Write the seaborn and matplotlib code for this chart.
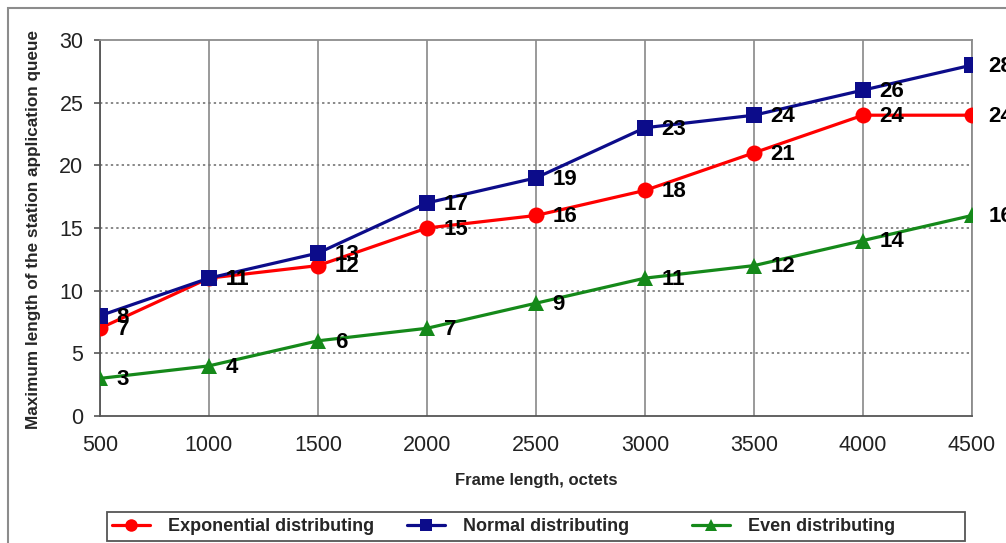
import matplotlib
matplotlib.use("Agg")
import matplotlib.pyplot as plt
import matplotlib.patches as mpatches
import seaborn as sns
import pandas as pd

frame_lengths = [500, 1000, 1500, 2000, 2500, 3000, 3500, 4000, 4500]
exponential = [7, 11, 12, 15, 16, 18, 21, 24, 24]
normal = [8, 11, 13, 17, 19, 23, 24, 26, 28]
even = [3, 4, 6, 7, 9, 11, 12, 14, 16]
series_names = ["Exponential distributing", "Normal distributing", "Even distributing"]
y_ticks = [0, 5, 10, 15, 20, 25, 30]

rows = []
for name, vals in zip(series_names, [exponential, normal, even]):
    for x, y in zip(frame_lengths, vals):
        rows.append({"frame": x, "queue": y, "series": name})
df = pd.DataFrame(rows)

sns.set_theme(style="white")
plt.rcParams["font.family"] = ["Liberation Sans", "DejaVu Sans"]

colors = {"Exponential distributing": "#ff0000",
          "Normal distributing": "#0c0c8a",
          "Even distributing": "#15891a"}
markers = {"Exponential distributing": "o",
           "Normal distributing": "s",
           "Even distributing": "^"}

W, H = 1006, 543
fig = plt.figure(figsize=(W / 100, H / 100), dpi=100)
ax = fig.add_axes([100 / W, 1 - 416 / H, 872 / W, 376 / H])

# outer chart frame
fig.patches.append(mpatches.Rectangle((8 / W, -0.05), 1.1, 1 - 8 / H + 0.05,
                                      transform=fig.transFigure, fill=False,
                                      edgecolor="#8c8c8c", linewidth=1.5, zorder=0))

# grid: solid verticals, dotted horizontals
for x in frame_lengths:
    ax.axvline(x, color="#7f7f7f", linewidth=1.1, zorder=1)
for y in y_ticks[1:-1]:
    ax.axhline(y, color="#7f7f7f", linewidth=1.3, linestyle=(0, (1.3, 1.7)), zorder=1)

sns.lineplot(data=df, x="frame", y="queue", hue="series", style="series",
             palette=colors, markers=markers, dashes=False, linewidth=2.3,
             markersize=11.5, markeredgewidth=0, ax=ax, legend=False,
             hue_order=series_names, style_order=series_names, zorder=3)

for name, vals in zip(series_names, [exponential, normal, even]):
    for x, y in zip(frame_lengths, vals):
        ax.annotate(str(y), (x, y), xytext=(12, -1), textcoords="offset points",
                    ha="left", va="center", fontsize=16, fontweight="bold",
                    color="black", zorder=5, annotation_clip=False)

ax.set_xlim(500, 4500)
ax.set_ylim(0, 30)
ax.set_xticks(frame_lengths)
ax.set_xticks([500, 4500], minor=True)
ax.set_yticks(y_ticks)
ax.tick_params(axis="both", which="major", labelsize=15.5, colors="#222222",
               width=1.2, direction="out")
ax.tick_params(axis="x", which="major", length=0, pad=14)
ax.tick_params(axis="x", which="minor", length=4, width=1.2, color="#555555", bottom=True)
ax.tick_params(axis="y", length=4, pad=8, left=True, color="#555555")
for side in ["top", "right"]:
    ax.spines[side].set_color("#8c8c8c")
    ax.spines[side].set_linewidth(1.3)
for side in ["left", "bottom"]:
    ax.spines[side].set_color("#555555")
    ax.spines[side].set_linewidth(1.3)

ax.set_xlabel("Frame length, octets", fontsize=12, fontweight="bold")
ax.set_ylabel("Maximum length of the station application queue", fontsize=12.3,
              fontweight="bold")
ax.xaxis.set_label_coords(0.5, -(473 - 416) / 376)
ax.yaxis.set_label_coords((41 - 100) / 872, 0.497)

# legend box with three evenly placed entries
fig.patches.append(mpatches.Rectangle((107 / W, 1 - 541 / H), 858 / W, 29 / H,
                                      transform=fig.transFigure, fill=False,
                                      edgecolor="#555555", linewidth=1.3, zorder=2))
for name, x0 in zip(series_names, [112, 407, 692]):
    handle = plt.Line2D([], [], color=colors[name], marker=markers[name],
                        markersize=9, linewidth=2.3, markeredgewidth=0)
    fig.legend([handle], [name], loc="center left",
               bbox_to_anchor=(x0 / W, 1 - 526.5 / H), frameon=False,
               prop={"weight": "bold", "size": 13}, handlelength=2.1,
               handletextpad=1.0, borderaxespad=0, borderpad=0)

fig.savefig("out.png", dpi=100)
